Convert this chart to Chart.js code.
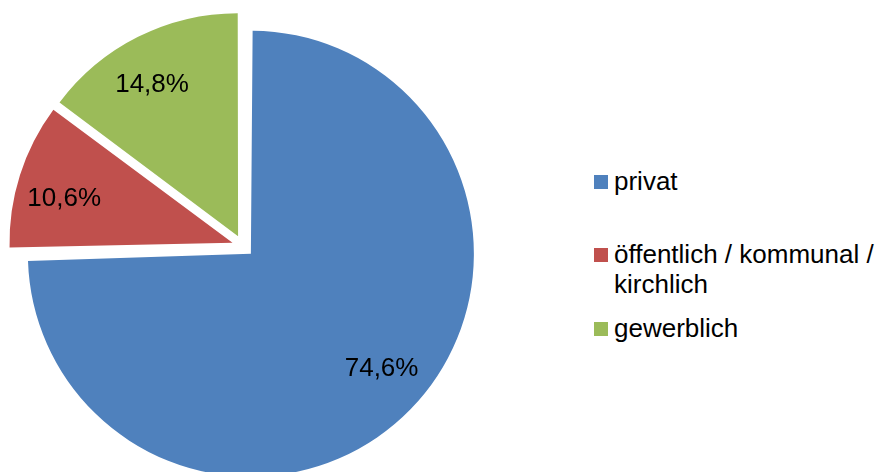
<!DOCTYPE html>
<html>
<head>
<meta charset="utf-8">
<script src="https://cdn.jsdelivr.net/npm/chart.js@4/dist/chart.umd.min.js"></script>
<style>
  html, body { margin: 0; padding: 0; background: #fff; overflow: hidden; }
  #wrap { position: relative; width: 885px; height: 472px; overflow: hidden; }
  #pie { position: absolute; left: -2px; top: 1px; }
  #legend { position: absolute; left: 0; top: 0; font-family: "Liberation Sans", Arial, sans-serif; font-size: 26px; line-height: 30px; color: #000; }
  .item { position: absolute; left: 594px; width: 290px; }
  .box { position: absolute; left: 0; top: 9px; width: 14px; height: 14px; }
  .txt { position: absolute; left: 20px; width: 270px; }
</style>
</head>
<body>
<div id="wrap">
  <canvas id="pie" width="490" height="490"></canvas>
  <div id="legend"></div>
</div>
<script>
// Anteile nach Eigentümer
const labels = ['privat', 'öffentlich / kommunal / kirchlich', 'gewerblich'];
const values = [74.6, 10.6, 14.8];
const colors = ['#4F81BD', '#C0504D', '#9BBB59'];
const legendTops = [166, 239, 313];

// Chart.js grows exploded slices by offset/4 * (1 - sin(angle));
// undo that so every slice keeps the same radius (like Excel)
const equalRadius = {
  id: 'equalRadius',
  beforeDatasetsDraw(chart) {
    const meta = chart.getDatasetMeta(0);
    const base = meta.controller.outerRadius;
    meta.data.forEach(arc => {
      const fix = 1 - Math.sin(Math.min(Math.PI, arc.circumference));
      arc.outerRadius = base - fix * (arc.options.offset || 0) / 4;
    });
  }
};

// percentage labels inside the slices (Excel puts them a bit off the bisector)
const sliceLabels = {
  id: 'sliceLabels',
  afterDatasetsDraw(chart) {
    const ctx = chart.ctx;
    const meta = chart.getDatasetMeta(0);
    const base = meta.controller.outerRadius;
    ctx.save();
    ctx.font = '26px "Liberation Sans", Arial, sans-serif';
    ctx.fillStyle = '#000';
    ctx.textAlign = 'center';
    ctx.textBaseline = 'middle';
    meta.data.forEach((arc, i) => {
      const mid = (arc.startAngle + arc.endAngle) / 2;
      const off = (arc.options.offset || 0) / 4;
      const ox = arc.x + Math.cos(mid) * off;
      const oy = arc.y + Math.sin(mid) * off;
      const a = mid - 3 * Math.PI / 180;
      const dist = base * 0.78;
      const text = values[i].toFixed(1).replace('.', ',') + '%';
      ctx.fillText(text, ox + Math.cos(a) * dist, oy + Math.sin(a) * dist);
    });
    ctx.restore();
  }
};

new Chart(document.getElementById('pie'), {
  type: 'pie',
  data: {
    labels: labels,
    datasets: [{
      data: values,
      backgroundColor: colors,
      borderWidth: 0,
      offset: 44
    }]
  },
  options: {
    responsive: false,
    animation: false,
    layout: { padding: 0 },
    plugins: {
      legend: { display: false },
      tooltip: { enabled: false }
    }
  },
  plugins: [equalRadius, sliceLabels]
});

// legend
const legend = document.getElementById('legend');
labels.forEach((name, i) => {
  const item = document.createElement('div');
  item.className = 'item';
  item.style.top = legendTops[i] + 'px';
  item.innerHTML = '<div class="box" style="background:' + colors[i] + '"></div><div class="txt"></div>';
  item.querySelector('.txt').textContent = name;
  legend.appendChild(item);
});
</script>
</body>
</html>
